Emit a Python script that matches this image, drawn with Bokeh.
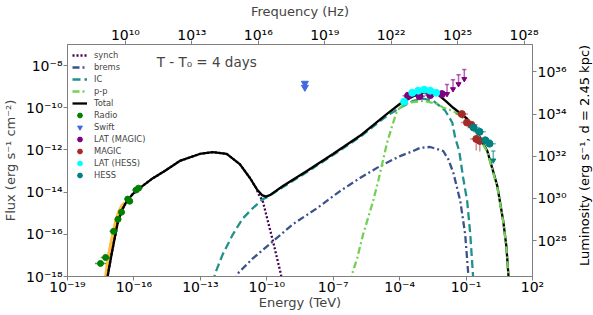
import math
import numpy as np
from bokeh.plotting import figure
from bokeh.layouts import row
from bokeh.core.properties import value
from bokeh.models import (Range1d, LogScale, LogAxis, FixedTicker, CustomJSTickFormatter,
                          Legend, LegendItem, Label)
from bokeh.embed import file_html
from bokeh.resources import INLINE

TEV_TO_HZ = 2.418e26      # Hz per TeV
LUM_PER_FLUX = 2.0e44     # luminosity axis scale (erg/s per erg/s/cm2)

x_ticks = [1e-19, 1e-16, 1e-13, 1e-10, 1e-7, 1e-4, 1e-1, 1e2]
y_ticks = [1e-18, 1e-16, 1e-14, 1e-12, 1e-10, 1e-8]
freq_ticks = [1e10, 1e13, 1e16, 1e19, 1e22, 1e25, 1e28]
lum_ticks = [1e28, 1e30, 1e32, 1e34, 1e36]

# ---- model curves (log10 E [TeV], log10 flux [erg s-1 cm-2]) ----
total_logE = [-17.25, -17.19, -17.01, -16.87, -16.74, -16.56, -16.33, -16.06, -15.74, -15.20,
              -14.61, -13.93, -13.03, -12.44, -11.81, -11.22, -10.76, -10.45, -10.22, -10.04,
              -9.86, -9.27, -8.19, -7.01, -5.79, -4.57, -3.98, -3.43, -3.07, -2.62, -2.26,
              -1.90, -1.58, -0.95, -0.49, -0.22, -0.04, 0.19, 0.41, 0.68, 0.82, 0.91, 0.95]
total_logF = [-18.3, -18.0, -16.95, -16.19, -15.48, -14.90, -14.43, -14.10, -13.81, -13.38,
              -13.0, -12.52, -12.19, -12.10, -12.19, -12.67, -13.33, -13.86, -14.14, -14.21,
              -14.14, -13.71, -13.0, -12.19, -11.33, -10.29, -9.81, -9.48, -9.31, -9.26, -9.38,
              -9.70, -10.0, -10.52, -11.19, -11.71, -12.05, -12.90, -13.71, -15.38, -16.57, -17.90, -18.7]

synch_logE = [-17.25, -17.19, -17.01, -16.87, -16.74, -16.56, -16.33, -16.06, -15.74, -15.20,
              -14.61, -13.93, -13.03, -12.44, -11.81, -11.22, -10.76, -10.45, -10.40, -10.18,
              -9.95, -9.72, -9.50, -9.36, -9.31]
synch_logF = [-18.3, -18.0, -16.95, -16.19, -15.48, -14.90, -14.43, -14.10, -13.81, -13.38,
              -13.0, -12.52, -12.19, -12.10, -12.19, -12.67, -13.33, -13.86, -14.05, -14.43,
              -15.38, -16.33, -17.29, -17.90, -18.3]

brems_logE = [-11.40, -11.35, -10.63, -9.72, -8.82, -7.73, -6.69, -5.79, -4.88, -3.98, -3.39,
              -3.07, -2.62, -2.03, -1.80, -1.57, -1.26, -1.04, -0.90, -0.87]
brems_logF = [-18.3, -17.9, -17.14, -16.33, -15.52, -14.76, -13.95, -13.33, -12.76, -12.29, -12.05,
              -11.90, -11.86, -12.05, -12.45, -13.10, -14.43, -16.0, -17.9, -18.5]

ic_logE = [-12.38, -12.35, -11.99, -11.53, -11.08, -10.63, -10.18, -10.0, -9.27, -8.19, -7.01,
           -5.79, -4.57, -3.98, -3.39, -2.94, -2.48, -1.94, -1.62, -1.49, -1.31, -1.13, -0.95,
           -0.81, -0.69, -0.65]
ic_logF = [-18.3, -17.9, -16.95, -16.0, -15.24, -14.76, -14.33, -14.25, -13.76, -13.05, -12.24,
           -11.38, -10.38, -10.0, -9.67, -9.57, -9.67, -10.14, -10.71, -11.43, -12.05, -13.33, -14.43,
           -16.0, -17.9, -18.5]

pp_logE = [-6.20, -6.15, -5.92, -5.65, -5.43, -5.20, -4.97, -4.79, -4.57, -4.34, -4.11, -3.84,
           -3.52, -2.94, -2.30, -2.03, -1.58, -0.95, -0.49, -0.22, -0.04, 0.19, 0.41, 0.68, 0.82,
           0.91, 0.95]
pp_logF = [-18.3, -17.9, -17.14, -16.0, -15.24, -14.43, -13.48, -12.67, -11.67, -10.86, -10.12, -9.88,
           -9.75, -9.67, -9.81, -10.0, -10.15, -10.62, -11.26, -11.76, -12.1, -12.95, -13.76, -15.42,
           -16.62, -17.95, -18.7]

# synchrotron uncertainty band (radio)
band_logE = [-17.35, -17.20, -17.05, -16.90, -16.75, -16.60, -16.45]
band_logF_lo = [-18.5, -18.3, -17.4, -16.6, -15.8, -15.1, -14.6]
band_logF_hi = [-18.0, -16.9, -16.1, -15.38, -14.9, -14.6, -14.43]

# ---- data points ----
radio_logE = [-17.51, -17.28, -16.92, -16.72, -16.56, -16.28, -16.19, -15.90, -15.79]
radio_logF = [-17.38, -17.10, -15.86, -15.29, -14.95, -14.33, -14.43, -13.90, -13.81]
radio_xerr = [0.25, 0.22, 0.18, 0.15, 0.15, 0.15, 0.15, 0.18, 0.18]
radio_yerr = [0.06, 0.06, 0.08, 0.08, 0.08, 0.08, 0.08, 0.08, 0.08]

swift_logE = [-8.28, -8.28]
swift_logF = [-8.84, -9.03]

latm_logE = [-3.62, -3.10, -2.62, -2.09]
latm_logF = [-9.43, -9.45, -9.40, -9.35]
latm_xerr = [0.25, 0.25, 0.25, 0.25]
latm_yerr = [0.12, 0.12, 0.12, 0.12]
latm_ul_logE = [-1.86, -1.59, -1.34, -1.08]
latm_ul_logF = [-8.90, -8.67, -8.43, -8.19]

magic_logE = [-1.19, -0.96, -0.76, -0.54, -0.38]
magic_logF = [-10.30, -10.70, -10.81, -11.48, -11.57]
magic_xerr = [0.28, 0.28, 0.28, 0.28, 0.28]
magic_yerr_lo = [0.15, 0.15, 0.15, 0.55, 0.5]
magic_yerr_hi = [0.12, 0.12, 0.12, 0.15, 0.15]

lath_logE = [-3.80, -3.43, -3.16, -2.89, -2.62, -2.35]
lath_logF = [-9.71, -9.29, -9.19, -9.14, -9.19, -9.29]
lath_xerr = [0.15, 0.15, 0.15, 0.15, 0.15, 0.15]
lath_yerr = [0.08, 0.08, 0.08, 0.08, 0.08, 0.08]

hess_logE = [-0.66, -0.39, -0.13, 0.06]
hess_logF = [-10.94, -11.14, -11.54, -11.70]
hess_xerr = [0.28, 0.28, 0.28, 0.28]
hess_yerr = [0.1, 0.1, 0.12, 0.12]
hess_ul_logE = [0.23]
hess_ul_logF = [-12.05]

lum_label = "Luminosity (erg s\u207b\u00b9, d = 2.45 kpc)"


def pw(a):
    return np.power(10.0, np.asarray(a, dtype=float))


FONT = "DejaVu Sans"
GRAY = "#808080"

p = figure(frame_width=465, frame_height=232, x_axis_type="log", y_axis_type="log",
           x_range=Range1d(1e-19, 1e2), y_range=Range1d(1e-18, 1e-7),
           output_backend="svg", toolbar_location=None,
           min_border_left=60, min_border_right=10, min_border_top=35, min_border_bottom=30)
p.xgrid.visible = False
p.ygrid.visible = False
p.outline_line_color = GRAY

p.extra_x_ranges = {"freq": Range1d(1e-19 * TEV_TO_HZ, 1e2 * TEV_TO_HZ)}
p.extra_x_scales = {"freq": LogScale()}
p.extra_y_ranges = {"lum": Range1d(1e-18 * LUM_PER_FLUX, 1e-7 * LUM_PER_FLUX)}
p.extra_y_scales = {"lum": LogScale()}

sup_code = """
const sup = {"-": "\u207b", "0": "\u2070", "1": "\u00b9", "2": "\u00b2", "3": "\u00b3",
             "4": "\u2074", "5": "\u2075", "6": "\u2076", "7": "\u2077", "8": "\u2078", "9": "\u2079"};
const e = Math.round(Math.log10(tick));
return "10" + String(e).split("").map(c => sup[c]).join("");
"""

bottom_axis = p.below[0]
left_axis = p.left[0]
top_axis = LogAxis(x_range_name="freq")
right_axis = LogAxis(y_range_name="lum")
p.add_layout(top_axis, "above")
p.add_layout(right_axis, "right")

bottom_axis.ticker = FixedTicker(ticks=x_ticks)
left_axis.ticker = FixedTicker(ticks=y_ticks)
top_axis.ticker = FixedTicker(ticks=freq_ticks)
right_axis.ticker = FixedTicker(ticks=lum_ticks)

bottom_axis.axis_label = "Energy (TeV)"
left_axis.axis_label = "Flux (erg s\u207b\u00b9 cm\u207b\u00b2)"
top_axis.axis_label = "Frequency (Hz)"

for ax in [bottom_axis, left_axis, top_axis, right_axis]:
    ax.formatter = CustomJSTickFormatter(code=sup_code)
    ax.axis_line_color = GRAY
    ax.major_tick_line_color = GRAY
    ax.minor_tick_line_color = None
    ax.major_tick_out = 4
    ax.major_tick_in = 0
    ax.major_label_text_font = FONT
    ax.major_label_text_font_size = "14px"
    ax.major_label_text_color = "black"
    ax.axis_label_text_font = FONT
    ax.axis_label_text_font_size = "13px"
    ax.axis_label_text_font_style = "normal"
    ax.major_label_standoff = 1
    ax.axis_label_standoff = 0
bottom_axis.major_label_standoff = -2
bottom_axis.axis_label_standoff = -3
top_axis.major_label_standoff = -2
top_axis.axis_label_standoff = 5
left_axis.axis_label_standoff = 5

# band
p.varea(x=pw(band_logE), y1=pw(band_logF_lo), y2=pw(band_logF_hi), fill_color="orange", fill_alpha=0.75)

# curves
r_synch = p.line(pw(synch_logE), pw(synch_logF), line_color="#440154", line_width=2.3, line_dash="2 2")
r_brems = p.line(pw(brems_logE), pw(brems_logF), line_color="#3b528b", line_width=2.3, line_dash="7 3 2 3")
r_ic = p.line(pw(ic_logE), pw(ic_logF), line_color="#21918c", line_width=2.3, line_dash="8 4")
r_total = p.line(pw(total_logE), pw(total_logF), line_color="black", line_width=2.3)
r_pp = p.line(pw(pp_logE), pw(pp_logF), line_color="#73d055", line_width=2.3, line_dash="7 3 2 3")


def errbars(logE, logF, xerr, yerr_lo, yerr_hi, color, alpha=0.55, w=1.5):
    E = pw(logE)
    F = pw(logF)
    p.segment(x0=E / pw(xerr), x1=E * pw(xerr), y0=F, y1=F, line_color=color, line_alpha=alpha, line_width=w)
    p.segment(x0=E, x1=E, y0=F / pw(yerr_lo), y1=F * pw(yerr_hi), line_color=color, line_alpha=alpha, line_width=w)


def uplims(logE, logF, color, alpha=0.6):
    E = pw(logE)
    F = pw(logF)
    p.segment(x0=E / 1.25, x1=E * 1.25, y0=F, y1=F, line_color=color, line_alpha=alpha, line_width=1.5)
    p.segment(x0=E, x1=E, y0=F, y1=F / 2.6, line_color=color, line_alpha=alpha, line_width=1.5)
    p.scatter(E, F / 2.8, marker="inverted_triangle", size=5, color=color)


errbars(radio_logE, radio_logF, radio_xerr, radio_yerr, radio_yerr, "green", alpha=0.7)
r_radio = p.scatter(pw(radio_logE), pw(radio_logF), marker="circle", size=6, color="green")

r_swift = p.scatter(pw(swift_logE), pw(swift_logF), marker="inverted_triangle", size=7, color="#4169e1")

errbars(latm_logE, latm_logF, latm_xerr, latm_yerr, latm_yerr, "purple")
uplims(latm_ul_logE, latm_ul_logF, "purple")
r_latm = p.scatter(pw(latm_logE), pw(latm_logF), marker="circle", size=7, color="purple")

errbars(magic_logE, magic_logF, magic_xerr, magic_yerr_lo, magic_yerr_hi, "brown", alpha=0.5)
r_magic = p.scatter(pw(magic_logE), pw(magic_logF), marker="circle", size=7, color="brown")

errbars(lath_logE, lath_logF, lath_xerr, lath_yerr, lath_yerr, "cyan", alpha=0.8, w=2)
r_lath = p.scatter(pw(lath_logE), pw(lath_logF), marker="circle", size=7, color="cyan")

errbars(hess_logE, hess_logF, hess_xerr, hess_yerr, hess_yerr, "teal", alpha=0.55)
uplims(hess_ul_logE, hess_ul_logF, "teal")
r_hess = p.scatter(pw(hess_logE), pw(hess_logF), marker="circle", size=7, color="teal")

legend = Legend(items=[
    LegendItem(label="synch", renderers=[r_synch]),
    LegendItem(label="brems", renderers=[r_brems]),
    LegendItem(label="IC", renderers=[r_ic]),
    LegendItem(label="p-p", renderers=[r_pp]),
    LegendItem(label="Total", renderers=[r_total]),
    LegendItem(label="Radio", renderers=[r_radio]),
    LegendItem(label="Swift", renderers=[r_swift]),
    LegendItem(label="LAT (MAGIC)", renderers=[r_latm]),
    LegendItem(label="MAGIC", renderers=[r_magic]),
    LegendItem(label="LAT (HESS)", renderers=[r_lath]),
    LegendItem(label="HESS", renderers=[r_hess]),
], location="top_left")
legend.border_line_color = None
legend.background_fill_alpha = 0.0
legend.margin = 5
legend.padding = 7
legend.spacing = 0
legend.label_height = 12
legend.glyph_height = 12
legend.glyph_width = 15
legend.label_standoff = 7
legend.label_text_font = FONT
legend.label_text_font_size = "8.3px"
p.add_layout(legend)

title = Label(x=1.07e-15, y=1.55e-8, text="T - T\u2080 = 4 days", text_font=FONT,
              text_font_size="13.5px", text_baseline="alphabetic", text_align="left")
p.add_layout(title)

# narrow side panel carrying the right-hand axis title (reads bottom to top)
side = figure(width=24, height=302, x_range=Range1d(0, 24), y_range=Range1d(0, 302),
              output_backend="svg", toolbar_location=None, min_border=0)
side.axis.visible = False
side.xgrid.visible = False
side.ygrid.visible = False
side.outline_line_color = None
side.text(x=[15], y=[151], text=[lum_label], angle=math.pi / 2, text_align="center",
          text_baseline="middle", text_font=value(FONT), text_font_size="13px", text_color="black")

layout = row(p, side)

open("out.html", "w").write(file_html(layout, INLINE))
